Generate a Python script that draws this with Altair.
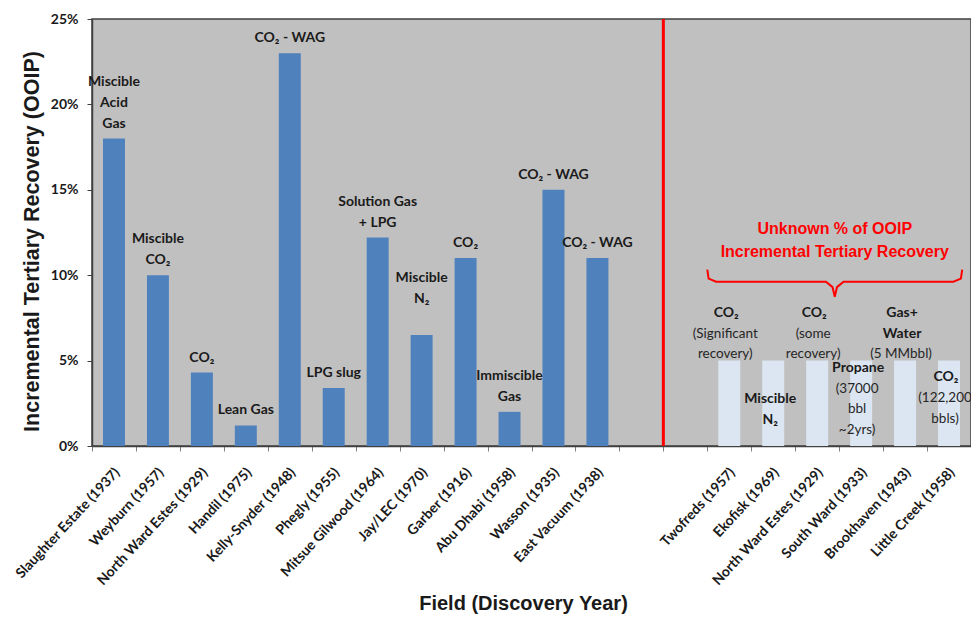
import altair as alt
import pandas as pd

# ---------------- data ----------------
fields_known = ["Slaughter Estate (1937)", "Weyburn (1957)", "North Ward Estes (1929)",
                "Handil (1975)", "Kelly-Snyder (1948)", "Phegly (1955)",
                "Mitsue Gilwood (1964)", "Jay/LEC (1970)", "Garber (1916)",
                "Abu Dhabi (1958)", "Wasson (1935)", "East Vacuum (1938)"]
recovery_known = [18, 10, 4.3, 1.2, 23, 3.4, 12.2, 6.5, 11, 2, 15, 11]
process_known = [["Miscible", "Acid", "Gas"], ["Miscible", "CO₂"], ["CO₂"], ["Lean Gas"],
                 ["CO₂ - WAG"], ["LPG slug"], ["Solution Gas", "+ LPG"], ["Miscible", "N₂", ""],
                 ["CO₂"], ["Immiscible", "Gas"], ["CO₂ - WAG"], ["CO₂ - WAG"]]

fields_unknown = ["Twofreds (1957)", "Ekofisk (1969)", "North Ward Estes (1929) ",
                  "South Ward (1933)", "Brookhaven (1943)", "Little Creek (1958)"]
recovery_unknown = [5, 5, 5, 5, 5, 5]
process_unknown = [["CO₂"], ["Miscible", "N₂"], ["CO₂"], ["Propane"], ["Gas+", "Water"], ["CO₂"]]
notes_unknown = [["(Significant", "recovery)"], [], ["(some", "recovery)"],
                 ["(37000", "bbl", "~2yrs)"], ["(5 MMbbl)"], ["(122,200", "bbls)"]]
note_top_unknown = [7.8, 2.76, 7.8, 4.58, 7.8, 4.05]   # height (%) of first label line

gap_slots = [" ", "  "]
domain = fields_known + gap_slots + fields_unknown

unknown_label = ["Unknown % of OOIP", "Incremental Tertiary Recovery"]
unknown_label_x = [16.9, 16.9]
unknown_label_y = [12.73, 11.38]

brace_x = [14.0, 14.03, 14.2, 16.7, 16.85, 16.9, 16.95, 17.1, 19.6, 19.77, 19.8]
brace_y = [10.33, 9.8, 9.62, 9.62, 9.3, 8.74, 9.3, 9.62, 9.62, 9.8, 10.33]

# ---------------- tables ----------------
bars = pd.DataFrame({
    "field": fields_known + fields_unknown,
    "value": recovery_known + recovery_unknown,
    "kind": ["known"] * len(fields_known) + ["unknown"] * len(fields_unknown),
})

GAP, STEP = 0.88, 1.22
rows = []
for f, v, lines in zip(fields_known, recovery_known, process_known):
    n = len(lines)
    for j, t in enumerate(lines):
        rows.append({"field": f, "text": t, "w": "b", "side": "k",
                     "y": v + GAP + (n - 1 - j) * STEP})
for f, top, bl, nl in zip(fields_unknown, note_top_unknown, process_unknown, notes_unknown):
    for j, t in enumerate(bl + nl):
        rows.append({"field": f, "text": t, "w": "b" if j < len(bl) else "n", "side": "u",
                     "y": top - j * STEP})
notes = pd.DataFrame(rows)

red_df = pd.DataFrame({"field": [gap_slots[1]]})
brace_df = pd.DataFrame({"bx": brace_x, "by": brace_y, "o": list(range(len(brace_x)))})
lab_df = pd.DataFrame({"bx": unknown_label_x, "by": unknown_label_y, "t": unknown_label})

# ---------------- encodings ----------------
xscale = alt.Scale(domain=domain, paddingInner=0, paddingOuter=0)
xaxis = alt.Axis(tickBand="extent", labelAngle=-47, labelAlign="right", labelBaseline="middle",
                 labelFont="Lato", labelFontWeight="bold", labelFontSize=14, labelColor="#1a1a1a",
                 labelPadding=19, labelOffset=3, labelLimit=300, tickSize=5, tickColor="#7f7f7f",
                 domainColor="#404040", domainWidth=1.5,
                 title="Field (Discovery Year)", titleFont="Liberation Sans", titleFontSize=20,
                 titleFontWeight="bold", titleColor="#1a1a1a", titleX=431, titleY=157,
                 titleBaseline="middle", titleAlign="center")
yscale = alt.Scale(domain=[0, 25], nice=False, zero=True)
yaxis = alt.Axis(values=[0, 5, 10, 15, 20, 25], labelExpr="datum.value + '%'",
                 labelFont="Lato", labelFontWeight="bold", labelFontSize=14, labelColor="#1a1a1a",
                 labelPadding=9, tickSize=5, tickColor="#404040", domainColor="#404040",
                 domainWidth=1.5, grid=False,
                 title="Incremental Tertiary Recovery  (OOIP)", titleFont="Liberation Sans",
                 titleFontSize=21.5, titleFontWeight="bold", titleColor="#1a1a1a",
                 titleX=-60, titleY=222, titleAngle=-90, titleBaseline="middle", titleAlign="center")


def X(**kw):
    return alt.X("field:N", scale=xscale, axis=xaxis, sort=None, **kw)


def Y(field):
    return alt.Y(f"{field}:Q", scale=yscale, axis=yaxis)


bar_layer = alt.Chart(bars).mark_bar(width=alt.RelativeBandSize(0.5)).encode(
    x=X(), y=Y("value"),
    color=alt.Color("kind:N", scale=alt.Scale(domain=["known", "unknown"],
                                              range=["#4f81bd", "#dce6f2"]), legend=None),
)

bold_k = alt.Chart(notes).transform_filter("datum.w == 'b' && datum.side == 'k'").mark_text(
    font="Lato", fontWeight="bold", fontSize=14, color="#1a1a1a", baseline="middle", align="center"
).encode(x=X(), y=Y("y"), text="text:N")

bold_u = alt.Chart(notes).transform_filter("datum.w == 'b' && datum.side == 'u'").mark_text(
    font="Lato", fontWeight="bold", fontSize=14, color="#1a1a1a", baseline="middle", align="center",
    dx=-3
).encode(x=X(), y=Y("y"), text="text:N")

norm_u = alt.Chart(notes).transform_filter("datum.w == 'n'").mark_text(
    font="Lato", fontWeight="normal", fontSize=13.5, color="#262626", baseline="middle",
    align="center", dx=-4
).encode(x=X(), y=Y("y"), text="text:N")

red_rule = alt.Chart(red_df).mark_rule(color="#ff0000", strokeWidth=3).encode(
    x=X(bandPosition=0)
)

inner = alt.layer(bar_layer, red_rule, bold_k, bold_u, norm_u)

qx = alt.Scale(domain=[0, 20], nice=False, zero=False)
brace = alt.Chart(brace_df).mark_line(color="#ff0000", strokeWidth=2).encode(
    x=alt.X("bx:Q", scale=qx, axis=None), y=Y("by"), order="o:Q"
)
red_text = alt.Chart(lab_df).mark_text(
    font="Liberation Sans", fontWeight="bold", fontSize=16, color="#ff0000",
    baseline="middle", align="center"
).encode(x=alt.X("bx:Q", scale=qx, axis=None), y=Y("by"), text="t:N")

overlay = alt.layer(brace, red_text)

chart = alt.layer(inner, overlay).resolve_scale(x="independent").properties(
    width=879, height=427,
    autosize=alt.AutoSizeParams(type="none"),
    padding={"left": 92, "top": 19, "right": 0, "bottom": 172},
    background="white",
).configure_view(fill="#c0c0c0", stroke="#404040", strokeWidth=1.5)

chart.save("out.html", embed_options={"renderer": "svg", "actions": False})
